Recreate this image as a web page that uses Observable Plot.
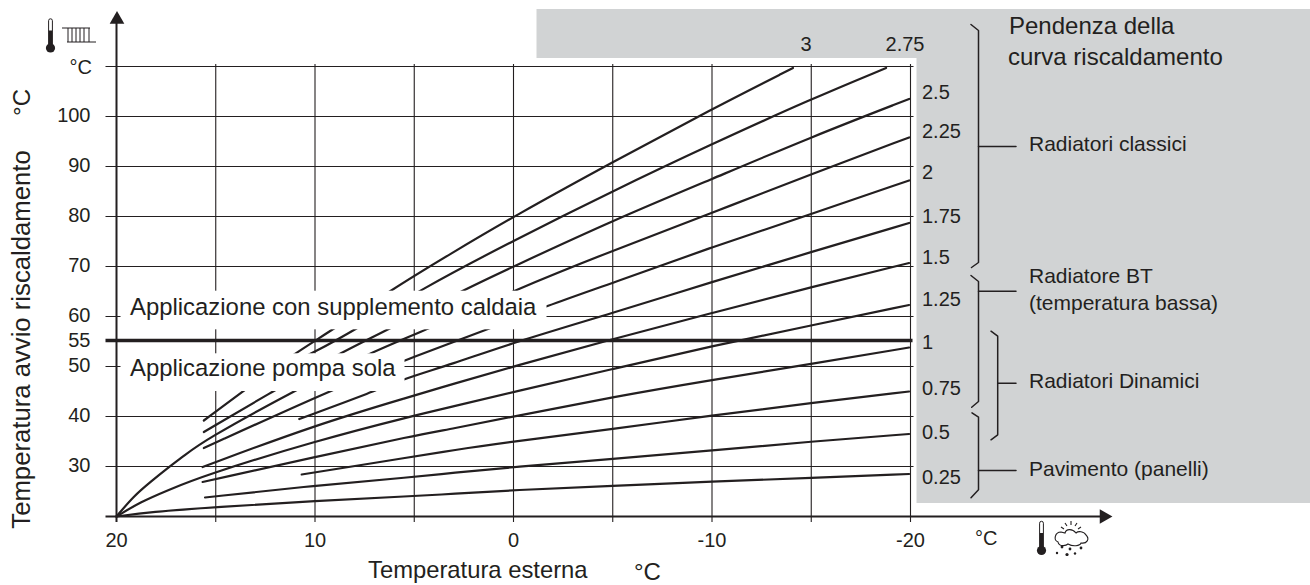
<!DOCTYPE html>
<html><head><meta charset="utf-8">
<script src="https://cdn.jsdelivr.net/npm/d3@7"></script>
<script src="https://cdn.jsdelivr.net/npm/@observablehq/plot@0.6"></script>
<style>html,body{margin:0;padding:0;background:#fff}svg{display:block}</style>
</head><body><div id="chart"></div>
<script>
// Heating curves: outside temperature (t) and flow temperature (v)
const s300t=[15.6,13.64,11.09,9.11,6.26,3.15,0,-5,-10,-14.08];
const s300v=[39.2,45,52.5,57.3,65.1,72.6,80,90.9,101.5,109.7];
const s275t=[10.8,10.2,7.98,4.83,0,-5,-10,-15,-18.77];
const s275v=[51.5,52.5,57.3,65.1,75.2,85.1,94.5,103.5,109.7];
const s250t=[15.6,12.13,8.84,6.34,2.64,0,-5,-10,-15,-19.93];
const s250v=[36.9,45,52.5,57.3,65.1,70,79.2,87.5,95.9,103.5];
const s225t=[20,19.13,18.26,17.42,16.58,15.6,11.12,7.38,4.41,0,-5,-10,-15,-19.93];
const s225v=[20,24.1,27,29.7,32.2,35.2,45,52.5,57.3,65.2,73.2,80.7,88.5,95.8];
const s200t=[15.6,9.35,5.47,1.39,-1.72,-5,-10,-15,-19.93];
const s200v=[33.7,45,51.3,57.3,62.2,66.7,73.9,80.5,87.2];
const s175t=[10.79,7.04,5.47,3.15,0,-5,-10,-15,-19.93];
const s175v=[39.5,45,47.6,50.4,54.8,60.7,66.9,72.9,78.7];
const s150t=[15.66,10,5,3.15,0,-5,-10,-15,-19.93];
const s150v=[29.9,38.3,44.2,46.4,50,55.5,60.7,65.9,70.7];
const s125t=[20,18.8,17.45,15.6,10,5,3.15,0,-5,-10,-15,-19.93];
const s125v=[20,22.9,25.2,28.2,35.1,40.2,41.9,44.9,49.5,54.1,58.2,62.3];
const s100t=[15.66,15,10,5,3.15,0,-5,-10,-15,-19.93];
const s100v=[26.9,27.5,31.9,36.2,37.5,40,43.9,47.3,50.5,53.8];
const s075t=[10.67,5,3.15,0,-5,-10,-15,-19.93];
const s075v=[28.4,32,33.2,35,37.5,40.2,42.7,45];
const s050t=[15.54,10,5,3.15,0,-5,-10,-15,-19.93];
const s050v=[23.8,26.2,27.9,28.7,29.9,31.5,33.2,35,36.5];
const s025t=[20,18.3,15,10,5,3.15,0,-5,-10,-15,-19.93];
const s025v=[20,20.9,21.9,23.1,24.1,24.5,25.3,26.1,27,27.7,28.5];

const xTicks=[20,10,0,-10,-20];
const yTicks=[30,40,50,55,60,70,80,90,100];
const xGrid=[15,10,5,0,-5,-10,-15,-20];
const yGrid=[30,40,50,60,70,80,90,100,110];
const slopeLabels=["2.5","2.25","2","1.75","1.5","1.25","1","0.75","0.5","0.25"];
const topLabels=["3","2.75"];
const threshold=[55];
const applicationLabels=["Applicazione con supplemento caldaia","Applicazione pompa sola"];
const emitterLabels=["Radiatori classici","Radiatore BT","(temperatura bassa)","Radiatori Dinamici","Pavimento (panelli)"];
const headingLabels=["Pendenza della","curva riscaldamento"];

const curves=[[3,s300t,s300v],[2.75,s275t,s275v],[2.5,s250t,s250v],[2.25,s225t,s225v],[2,s200t,s200v],[1.75,s175t,s175v],[1.5,s150t,s150v],[1.25,s125t,s125v],[1,s100t,s100v],[0.75,s075t,s075v],[0.5,s050t,s050v],[0.25,s025t,s025v]];
const rows=curves.flatMap(([s,ts,vs])=>ts.map((t,i)=>({s,t,v:vs[i]})));

// annotations are placed in data units; these turn picture pixels into them
const X=px=>(512.5-px)/19.85, Y=py=>20+(516-py)/5;
const ink="#231f20", panel="#d1d3d4", font="Liberation Sans";

const rects=[[536,1310,9,58],[916,1310,9,503]].map(([a,b,c,d])=>({x1:X(a),x2:X(b),y1:Y(d),y2:Y(c)}));
const masks=[[120,546,290.7,329.3],[120,404,353.3,391]].map(([a,b,c,d])=>({x1:X(a),x2:X(b),y1:Y(d),y2:Y(c)}));

const brackets=[
 [[970,24],[977.5,30],[977.5,262],[970.5,267]],[[977.5,146],[1015,146]],
 [[970,275],[977.5,281],[977.5,401],[970.7,406.7]],[[977.5,290.7],[1015,290.7]],
 [[990,330.7],[996.7,335.7],[996.7,434.3],[990,439.3]],[[996.7,382.7],[1015,382.7]],
 [[971,412.3],[977.5,416.7],[977.5,489.3],[970,497.3]],[[977.5,470],[1015,470]]
].flatMap((pts,k)=>pts.map(([a,b])=>({k,x:X(a),y:Y(b)})));

const svgUri=(w,h,body)=>"data:image/svg+xml,"+encodeURIComponent(`<svg xmlns="http://www.w3.org/2000/svg" width="${w}" height="${h}" viewBox="0 0 ${w} ${h}">${body}</svg>`);
const thermo=svgUri(11,36,`<path d="M3.6 27V3.2a1.9 1.9 0 0 1 3.8 0V27" fill="#fff" stroke="${ink}" stroke-width="1"/><rect x="3.8" y="13" width="3.4" height="16" fill="${ink}"/><circle cx="5.5" cy="30.5" r="4.6" fill="${ink}"/>`);
const radiator=svgUri(36,20,`<g fill="none" stroke="${ink}" stroke-width="1"><path d="M1 2.5H29M7 2.5V16.5M11 2.5V16.5M15 2.5V16.5M19 2.5V16.5M23 2.5V16.5M28 2.5V16.5M6 16.5H35"/></g>`);
const weather=svgUri(38,36,`<g fill="none" stroke="${ink}" stroke-width="1.1"><path d="M8 12C2 12 0 20 5 22C6 27 13 26 15 24C20 27 27 26 28 23C34 24 37 19 33 15C31 11 25 11 23 13C19 8 13 9 12 13Z" fill="#fff"/><path d="M11 9L8 7M14 6L12 3M18 5L18 1M22 6L24 3M25 9L28 7"/></g><g fill="${ink}"><circle cx="9" cy="27" r="1.4"/><circle cx="17" cy="29" r="1.4"/><circle cx="28" cy="28" r="1.4"/><circle cx="4" cy="33" r="1.2"/><circle cx="14" cy="34.5" r="1.6"/><circle cx="22" cy="33.5" r="1.2"/></g>`);

const txt=(label,px,py,opt={})=>Plot.text([label],{x:X(px),y:Y(py),fill:ink,fontSize:20,textAnchor:"start",...opt});

const chart=Plot.plot({
  width:1310,height:585,
  marginLeft:116,marginRight:400,marginTop:66,marginBottom:69,
  x:{domain:[20,-20]},
  y:{domain:[20,110]},
  style:{fontFamily:font,background:"#fff",color:ink},
  marks:[
    Plot.rect(rects,{x1:"x1",x2:"x2",y1:"y1",y2:"y2",fill:panel}),
    Plot.ruleY(yGrid,{x1:X(105),x2:X(913),stroke:ink,strokeWidth:1.1}),
    Plot.ruleX(xGrid,{y1:Y(64),y2:Y(522),stroke:ink,strokeWidth:1.1}),
    Plot.line(rows,{x:"t",y:"v",z:"s",curve:"basis",stroke:ink,strokeWidth:2.2}),
    Plot.rect(masks,{x1:"x1",x2:"x2",y1:"y1",y2:"y2",fill:"#fff"}),
    Plot.ruleY(threshold,{x1:X(105),x2:X(912),dy:-1,stroke:ink,strokeWidth:3.6}),
    Plot.ruleY([20],{x1:X(105),x2:X(1100),stroke:ink,strokeWidth:2}),
    Plot.ruleX([20],{y1:Y(522),y2:Y(22),stroke:ink,strokeWidth:2}),
    Plot.dot(["up"],{x:X(116),y:Y(19),symbol:"triangle2",r:7,fill:ink}),
    Plot.dot(["right"],{x:X(1103),y:Y(516),symbol:"triangle2",r:7,rotate:90,fill:ink}),
    Plot.axisY({ticks:yTicks,tickSize:0,tickPadding:26,fontSize:20,dy:-1,tickFormat:d=>d,label:null,color:ink}),
    Plot.axisX({ticks:xTicks,tickSize:0,tickPadding:16,fontSize:20,tickFormat:d=>String(d),label:null,color:ink}),
    Plot.line(brackets,{x:"x",y:"y",z:"k",stroke:ink,strokeWidth:1.5}),
    // curve labels
    ...slopeLabels.map((l,i)=>txt(l,921,[92,131,172,216,257,299,342,388,432,477][i])),
    ...topLabels.map((l,i)=>txt(l,[805,904][i],44,{textAnchor:"middle"})),
    // applications
    txt(applicationLabels[0],129,307,{fontSize:23.9}),
    txt(applicationLabels[1],129,368,{fontSize:23.9}),
    // right panel
    txt(headingLabels[0],1008,26,{fontSize:24}),
    txt(headingLabels[1],1007,57,{fontSize:24}),
    ...emitterLabels.map((l,i)=>txt(l,1028,[144,276,303,381,469][i],{fontSize:21})),
    // axis titles and units
    txt("°C",91,67,{textAnchor:"end",fontSize:20}),
    txt("°C",974,538,{fontSize:20}),
    txt("Temperatura esterna",367,570,{fontSize:23.8}),
    txt("°C",633,572,{fontSize:24}),
    txt("Temperatura avvio riscaldamento",21,339,{rotate:-90,textAnchor:"middle",fontSize:25.7}),
    txt("°C",21,102,{rotate:-90,textAnchor:"middle",fontSize:24}),
    // icons
    Plot.image(["a"],{x:X(49.5),y:Y(35),src:()=>thermo,width:11,height:36}),
    Plot.image(["b"],{x:X(78),y:Y(35),src:()=>radiator,width:36,height:20}),
    Plot.image(["c"],{x:X(1040.5),y:Y(537.5),src:()=>thermo,width:11,height:36}),
    Plot.image(["d"],{x:X(1071),y:Y(537.5),src:()=>weather,width:38,height:36})
  ]
});
document.getElementById("chart").append(chart);
</script></body></html>
